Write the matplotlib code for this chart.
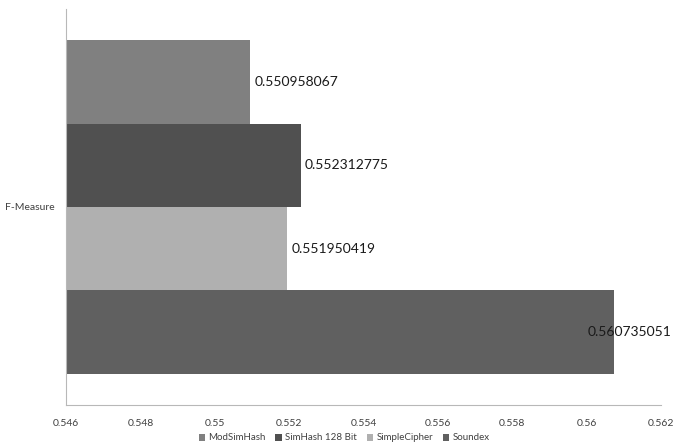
import matplotlib
matplotlib.use("Agg")
import matplotlib.pyplot as plt
from matplotlib.patches import Patch

plt.rcParams['font.family'] = ['Lato', 'DejaVu Sans']

category = "F-Measure"
series = ["ModSimHash", "SimHash 128 Bit", "SimpleCipher", "Soundex"]
values = [0.550958067, 0.552312775, 0.551950419, 0.560735051]
labels = ["0.550958067", "0.552312775", "0.551950419", "0.560735051"]
colors = ["#808080", "#505050", "#b0b0b0", "#606060"]
xticks = [0.546, 0.548, 0.55, 0.552, 0.554, 0.556, 0.558, 0.56, 0.562]
xtick_labels = ["0.546", "0.548", "0.55", "0.552", "0.554", "0.556", "0.558", "0.56", "0.562"]

fig = plt.figure(figsize=(6.86, 4.47), dpi=100)
ax = fig.add_axes([66 / 686, 1 - 405 / 447, (661 - 66) / 686, (405 - 9) / 447])

xmin, xmax = 0.546, 0.562
n = len(series)
offsets = [(n - 1) / 2 - i for i in range(n)]
for off, v, c, name in zip(offsets, values, colors, series):
    ax.barh(off, v - xmin, left=xmin, height=1.0, color=c, label=name)

ax.set_xlim(xmin, xmax)
ax.set_ylim(-2.378, 2.378)

# value labels just past the end of each bar; the longest one is kept inside the figure
vmax = max(values)
for off, v, lab in zip(offsets, values, labels):
    if v == vmax:
        ax.annotate(lab, xy=(672 / 686, off), xycoords=("figure fraction", "data"),
                    ha="right", va="center", fontsize=10, color="#1a1a1a",
                    annotation_clip=False)
    else:
        ax.annotate(lab, xy=(v, off), xytext=(3, 0), textcoords="offset points",
                    ha="left", va="center", fontsize=10, color="#1a1a1a")

ax.set_xticks(xticks)
ax.set_xticklabels(xtick_labels, fontsize=7.5, color="#404040")
ax.set_yticks([0])
ax.set_yticklabels([category], fontsize=7.5, color="#404040")
ax.tick_params(axis="both", length=0)
ax.tick_params(axis="x", pad=10)
ax.tick_params(axis="y", pad=8)

for s in ["top", "right"]:
    ax.spines[s].set_visible(False)
for s in ["left", "bottom"]:
    ax.spines[s].set_color("#b8b8b8")
    ax.spines[s].set_linewidth(0.8)

handles = [Patch(facecolor=c, label=s) for s, c in zip(series, colors)]
fig.legend(handles=handles, loc="center", bbox_to_anchor=(344 / 686, 1 - 438 / 447),
           ncol=4, frameon=False, fontsize=7, handlelength=0.7, handleheight=0.7,
           handletextpad=0.3, columnspacing=1.0, labelcolor="#404040")

fig.savefig("out.png", dpi=100)
